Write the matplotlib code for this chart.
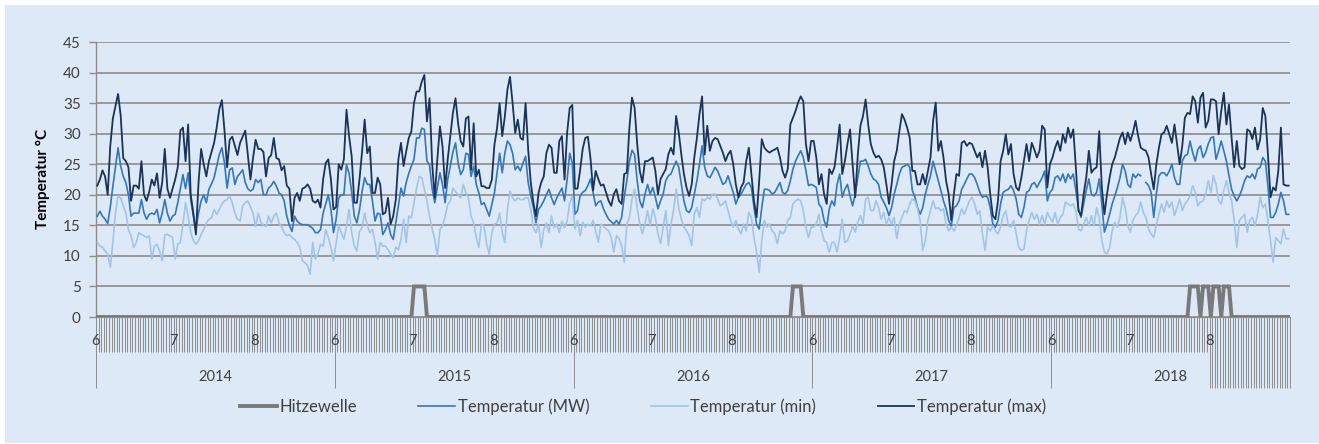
import matplotlib.pyplot as plt
import numpy as np
from matplotlib.patches import Rectangle

years = [2014, 2015, 2016, 2017, 2018]
month_labels = ["6", "7", "8"]
month_len = [30, 31, 31]

# Tagesmaximum (max), Tagesmittel (MW), Tagesminimum (min), je Jahr 1.6.-31.8.
t_max_2014 = [21.5, 22.5, 24, 23, 20, 28, 32.5, 34.5, 36.5, 33,
              26, 25.5, 24.5, 19, 21.5, 21.5, 21, 25.5, 20, 19,
              20.5, 22.5, 21.5, 23.5, 19.5, 22, 27.5, 21, 19.5, 21,
              22.5, 24.5, 30.5, 31, 25.5, 31.5, 20, 17, 13.5, 22,
              27.5, 25, 23, 25.5, 27, 28.5, 31, 34, 35.5, 30.5,
              24.5, 29, 29.5, 28, 26.5, 28.5, 29.5, 30.5, 26.5, 22.5,
              26, 29, 27.5, 27.5, 27, 23, 26, 26.5, 29.3, 26,
              25.8, 24, 24.7, 21.5, 21, 15.7, 19.5, 20.3, 19, 21,
              21.2, 21.7, 21, 19, 18.7, 19.2, 17.9, 22.5, 25.2, 25.8,
              22.5, 17.6]
t_mw_2014 = [16.5, 17.3, 16.5, 16, 15.3, 18, 21.4, 24.5, 27.7, 24.7,
             23, 22, 20, 16.5, 17, 17, 17, 19.2, 17, 16,
             16.8, 17, 16.8, 17.6, 15.4, 17, 19.2, 17, 15.7, 16.5,
             16.8, 18.7, 21, 23.3, 21, 23.6, 19.2, 16.5, 14.3, 17,
             19, 20, 18.7, 20.9, 21.8, 22.8, 24.7, 26.6, 27.7, 25.2,
             21.1, 24.1, 24.4, 21.7, 23, 23.5, 24.1, 22, 21, 20.6,
             20.9, 22.5, 22, 22.5, 20, 20, 21.1, 21.5, 22.2, 21.4,
             20.3, 20, 19, 16.5, 15, 14, 16.5, 15.7, 15.3, 15.1,
             15.1, 15.1, 14.8, 14.5, 13.8, 13.8, 14.3, 17, 18.5, 20,
             17.6, 13.8]
t_min_2014 = [12.2, 11.6, 11.4, 10.8, 10.3, 8.1, 12.2, 17, 19.8, 19.5,
              18.2, 17, 14.3, 13.3, 11.4, 12.2, 13.8, 13.5, 13.3, 13,
              13.3, 9.5, 11.6, 11.9, 10.8, 9.2, 13.5, 13.5, 13.3, 13,
              9.5, 11.9, 12.2, 15.2, 18.7, 16.5, 13.8, 12.5, 11.9, 12.5,
              13.5, 14.3, 15.4, 16, 16.2, 17.6, 16.8, 17.6, 18.5, 19,
              19.2, 19.8, 18.7, 17, 16, 15.7, 18.2, 18.7, 19, 18,
              17, 14.8, 17, 15.5, 15, 14.8, 16.5, 15.4, 16.5, 17,
              15.4, 14.8, 13.8, 13.3, 13.5, 13, 12.7, 12.2, 11.4, 9.2,
              8.9, 8.4, 7, 12.2, 9.5, 10.3, 11.9, 11.6, 14.3, 13,
              11.4, 9.2]

t_max_2015 = [18, 25, 24.1, 25.8, 33.9, 29.6, 26.3, 18.7, 18.7, 22.5,
              27, 32.3, 26.8, 27.9, 20.3, 20.3, 22.8, 21.7, 16.8, 17.1,
              19.5, 15.2, 16.5, 19.2, 25.8, 28.5, 24.7, 27.1, 29.3, 30.4,
              35, 36.9, 36.9, 38.5, 39.6, 32, 35.8, 25.2, 19.5, 25.8,
              31.2, 27.9, 21.1, 25.8, 29.6, 33.4, 35.8, 31.7, 28.8, 27.9,
              32.5, 32.8, 24.1, 31.7, 23, 24.1, 21.4, 21.4, 21.1, 21.1,
              22.5, 28.2, 30.9, 35, 29.6, 32.8, 37.2, 39.3, 35, 30.1,
              32.3, 29.3, 29, 35, 27.4, 22, 18.7, 16.5, 20.3, 22,
              23, 26.8, 28.2, 27.7, 23.6, 23.6, 28.8, 29.6, 22.5, 30.1,
              34.2, 34.7]
t_mw_2015 = [16, 19.5, 20, 20, 24.9, 23.5, 20.5, 16.5, 15.4, 17.5,
             20.5, 22.8, 21.7, 21.7, 19, 15.7, 17, 16.8, 13.5, 14.3,
             15.4, 13.5, 12.7, 15.4, 18.2, 21.1, 19.8, 22, 23.5, 24.7,
             25.8, 29.3, 29.3, 30.9, 30.7, 25.5, 24.9, 21, 18.7, 21.1,
             23.6, 21.7, 18.7, 22.5, 24.7, 27, 28.5, 25.2, 23.3, 24.1,
             26.8, 26.6, 23, 24.7, 21.7, 20.3, 18.4, 18.7, 17.6, 16.5,
             18.4, 20.3, 23.6, 26.8, 23.6, 26.8, 28.8, 28.2, 26.8, 24.1,
             24.7, 23.9, 25.2, 26.3, 22, 19.8, 17.9, 15.4, 17.6, 18.2,
             19, 20, 20.9, 19.5, 18.4, 19.5, 20.3, 21.1, 19, 22.5,
             26.8, 25.2]
t_min_2015 = [12, 15, 13.8, 12.7, 14.9, 17.6, 13.8, 11.6, 10.8, 14,
              14.6, 17, 15, 13.8, 14.3, 12.2, 9.5, 12.2, 11.6, 11.6,
              11, 10.3, 9.7, 11.4, 11, 12.7, 16, 12.2, 16.5, 16.2,
              18.7, 21.1, 23, 22.8, 20.9, 19, 16.5, 14.5, 12.7, 10,
              14.3, 14.9, 16.5, 18.4, 19, 21.1, 20.5, 20, 19.5, 21.7,
              20.3, 19.5, 16.5, 15.4, 13, 11.4, 15.2, 14.9, 11.9, 10.3,
              13.8, 15.2, 15.4, 17, 13.8, 12.2, 17.6, 20.6, 19.5, 19,
              19.5, 19.2, 19.2, 19.5, 19.5, 17.6, 14.6, 13.8, 15.2, 11.4,
              14.3, 15.4, 13.8, 16.5, 14.6, 15.2, 13.8, 15.7, 14.6, 15.7,
              18.7, 19.8]

t_max_2016 = [21, 21, 24, 27.5, 29.3, 29.5, 26, 20.7, 23.9, 22.6,
              21.5, 21.7, 20.4, 19, 18.2, 20.1, 20.9, 19, 18.5, 23.4,
              23.6, 31, 35.9, 34.2, 28.3, 23.9, 22, 25.5, 25.5, 25.8,
              26.1, 23.9, 20.1, 22.6, 23.4, 24.2, 26.6, 27.7, 26.6, 32.9,
              30.2, 26.6, 23.4, 21.2, 19.8, 21.7, 26.1, 29.3, 33.2, 36.1,
              26.6, 31.3, 27.2, 28.8, 29.3, 29.1, 28, 26.9, 25.5, 26.6,
              27.2, 25, 21.7, 19.6, 21.2, 22, 25.5, 27.7, 23.4, 19,
              16.3, 22.3, 29.1, 27.7, 27.2, 26.9, 27.2, 27.4, 27.7, 26.1,
              23.9, 22.8, 24.2, 31.5, 32.6, 33.7, 35.1, 36.1, 35.3, 28.3,
              25.5, 28.8]
t_mw_2016 = [16.8, 17.4, 19.8, 20.4, 20.7, 21.5, 22.6, 20.4, 18.2, 18.8,
             19, 17.7, 16.8, 16, 15.6, 15.2, 15.8, 15.2, 16.3, 19.6,
             22.3, 25.5, 27.3, 26.6, 22.3, 19, 17.9, 20.1, 21.7, 20.1,
             21.2, 19.6, 17.7, 19, 20.1, 22.3, 23.1, 23.4, 24.5, 25.5,
             24.5, 21.7, 19, 17.4, 17.1, 17.9, 20.1, 22.3, 25, 28,
             24.5, 23.1, 22.8, 23.6, 24.5, 23.9, 22.8, 21.7, 22, 23.1,
             21.7, 20.4, 18.5, 19.6, 20.1, 20.9, 21.7, 22, 21.2, 17.9,
             15.2, 14.4, 17.9, 20.9, 20.9, 20.7, 20.1, 20.4, 21.2, 22,
             20.4, 20.1, 20.7, 22.3, 24.2, 25.5, 26.4, 27.2, 26.1, 23.9,
             21.5, 21.7]
t_min_2016 = [14.4, 15.8, 13.3, 15.5, 14.7, 15.2, 14.9, 15.8, 14.1, 12.2,
              15.2, 14.9, 14.4, 14.1, 13, 10.6, 13.3, 12.8, 11.7, 9,
              15.2, 16.3, 19.3, 20.9, 17.9, 15.2, 13.6, 15.2, 17.4, 14.9,
              17.7, 16.3, 13.6, 12, 14.7, 17.4, 11.7, 15.2, 17.4, 20.9,
              17.9, 16, 14.7, 14.1, 13.3, 11.7, 16.8, 17.9, 16.3, 19.3,
              19, 19.6, 19.3, 20.1, 20.1, 19.3, 18.2, 18.5, 19, 17.4,
              15.8, 14.7, 15.8, 14.4, 13.6, 15.2, 14.1, 17.1, 16.3, 13,
              10.6, 7.3, 12.5, 15.8, 14.7, 15.2, 14.1, 13.6, 12, 14.1,
              13.6, 14.1, 15.8, 16.3, 18.5, 19, 19.3, 19, 17.4, 14.7,
              13, 14.7]

t_max_2017 = [28.8, 26.1, 21.7, 23.4, 20.1, 18.5, 24.2, 23.4, 24.5, 27.7,
              31.5, 23.4, 25.5, 28.3, 30.7, 24.9, 19.6, 26.6, 31.3, 32.9,
              35.6, 31.5, 28.3, 26.9, 26.1, 26.4, 25.8, 24.5, 21.7, 18.5,
              21.7, 25.5, 27.2, 30.4, 33.2, 32.3, 31, 29.3, 23.9, 23.9,
              21.7, 21.7, 23.4, 21.7, 23.9, 26.1, 32.1, 35.1, 27.2, 28.8,
              26.1, 22.3, 20.1, 15.8, 20.1, 23.4, 23.1, 28.5, 28.8, 28,
              28.5, 28.3, 27.2, 26.1, 26.9, 24.5, 27.2, 24.5, 20.1, 16.6,
              16, 19, 25.5, 27.2, 29.9, 26.6, 28.3, 23.4, 21.2, 20.7,
              22.8, 25.5, 28.3, 25.5, 28.5, 27.4, 26.1, 27.2, 31.3, 30.7,
              21.2, 25]
t_mw_2017 = [21.5, 21.2, 18.5, 17.9, 15.8, 14.7, 17.7, 19, 18.2, 21.7,
             23.4, 19.6, 20.9, 21.7, 19.8, 18.2, 20.1, 22.8, 25.5, 25.5,
             25.8, 24.7, 23.4, 22.6, 22.3, 21.7, 19.6, 18.8, 17.9, 16.6,
             17.9, 20.1, 21.7, 23.4, 24.5, 24.7, 25, 24.5, 20.7, 19.6,
             17.9, 16.8, 17.9, 20.1, 21.7, 23.1, 25.5, 23.9, 22.3, 20.7,
             19, 17.7, 15.8, 14.9, 17.9, 18.2, 19, 20.9, 21.7, 22.6,
             23.4, 23.4, 22.8, 21.7, 20.4, 19.6, 19.8, 19.6, 17.9, 15.2,
             14.7, 15.8, 18.5, 20.4, 20.7, 20.9, 21.5, 20.7, 19.3, 16.8,
             16.3, 17.9, 20.4, 20.7, 21.7, 22, 21.2, 22, 22.8, 23.9,
             19, 20.4]
t_min_2017 = [14.7, 15.2, 16.8, 14.1, 12.5, 12.2, 10.6, 12.2, 12.2, 10.6,
              13, 16, 12.2, 12.5, 13.6, 14.9, 13.9, 15.5, 16.6, 15.2,
              19.3, 19.6, 17.4, 17.4, 19, 17.9, 16, 17.1, 15.2, 16.3,
              15.2, 16.3, 12.8, 15.2, 16.3, 17.4, 17.1, 18.5, 19.3, 19,
              17.7, 15.8, 10.9, 12.5, 15.8, 17.4, 19, 17.7, 17.9, 17.4,
              17.7, 15.2, 14.1, 14.7, 14.1, 14.9, 16.3, 17.7, 16.8, 17.9,
              19, 19.6, 18.5, 16.8, 17.4, 13.6, 10.9, 14.7, 14.1, 14.9,
              14.1, 13.6, 14.7, 16.6, 17.4, 14.9, 14.7, 15.8, 13.6, 11.4,
              10.9, 11.1, 14.1, 15.8, 17.1, 16, 16.8, 15.2, 16.6, 15.2,
              17.1, 16.3]

t_max_2018 = [26.1, 27.7, 28.8, 27.2, 29.9, 28.5, 31, 29.3, 30.7, 24.5,
              17.4, 16.6, 20.1, 22.8, 27.2, 23.6, 24.2, 24.5, 30.4, 21.2,
              16.8, 20.1, 22.8, 25, 26.1, 27.7, 29.3, 30.2, 28.3, 30.2,
              28.8, 30.2, 32.1, 29.6, 27.7, 27.4, 27.2, 26.1, 23.4, 20.9,
              25, 27.7, 29.9, 30.2, 31.3, 29.9, 28.5, 31.5, 28.3, 25,
              28, 32.6, 33.4, 33.2, 36.1, 35.3, 31.8, 35.9, 36.7, 31,
              32.1, 35.6, 35.6, 35.3, 29.9, 33.7, 36.7, 31.5, 34.8, 29.3,
              24.5, 28.8, 24.7, 24.2, 24.5, 30.7, 30.4, 29.1, 31, 27.4,
              29.1, 34.2, 32.9, 26.6, 19.6, 21.2, 20.7, 23.9, 31, 21.7,
              21.5, 21.5]
t_mw_2018 = [20.9, 22.8, 23.1, 22.3, 23.4, 22, 23.4, 22.6, 23.4, 20.7,
             17.7, 16.3, 18.5, 20.7, 22.6, 20.1, 19.8, 20.4, 22.6, 18.5,
             13.9, 15.2, 16.8, 18.5, 19.8, 21.2, 22.8, 25, 23.9, 21.7,
             21.2, 23.4, 22.8, 23.4, 23.1, np.nan, 22, 21.5, 20.4, 16.3,
             20.1, 23.1, 23.6, 23.6, 23.1, 23.9, 25, 22.8, 21.7, 21.7,
             25.5, 26.4, 26.6, 28.8, 26.9, 25.5, 27.4, 28, 26.1, 26.9,
             28.3, 29.3, 29.5, 25.8, 27.2, 28.8, 27.2, 25.5, 23.1, 20.9,
             19.8, 19, 19.8, 20.9, 22.3, 23.1, 22.8, 23.4, 22.6, 24.2,
             24.5, 26.1, 25.5, 21.5, 16.3, 16.3, 17.1, 18.5, 20.4, 19,
             16.8, 16.8]
t_min_2018 = [15.5, 17.1, 15.2, 16.3, 16.8, 18.8, 18.5, 18.2, 18.5, 17.4,
              14.4, 14.1, 15.2, 16.3, 14.9, 16.6, 14.9, 17.9, 16.3, 12.5,
              10.6, 10.3, 11.4, 14.1, 15.5, 14.7, 16.3, 19.6, 17.9, 14.9,
              13.9, 15.8, 16.6, 17.1, 18.8, 17.1, 16.3, 14.4, 13.6, 13,
              15.2, 16.8, 18.5, 17.1, 19, 17.9, 18.8, 16.6, 17.9, 19.3,
              17.4, 18.5, 19, 19.8, 21.5, 20.4, 18.2, 18.8, 19, 20.1,
              22.3, 20.4, 23.1, 21.7, 19, 18.5, 20.7, 22.3, 20.4, 19,
              15.8, 11.4, 15.8, 16.3, 16.8, 13.9, 15.8, 16.3, 14.9, 16.8,
              19.6, 17.9, 18.5, 15.8, 12.5, 9, 13, 12.5, 12, 14.4,
              12.8, 12.8]

# Tage mit Hitzewelle (Tag ab 1. Juni)
hitze_tage = {2015: [30, 31, 32, 33, 34],
              2016: [84, 85, 86, 87],
              2018: [53, 54, 55, 56, 58, 59, 60, 62, 63, 64, 66, 67, 68]}

t_max = np.array(t_max_2014 + t_max_2015 + t_max_2016 + t_max_2017 + t_max_2018, dtype=float)
t_mw = np.array(t_mw_2014 + t_mw_2015 + t_mw_2016 + t_mw_2017 + t_mw_2018, dtype=float)
t_min = np.array(t_min_2014 + t_min_2015 + t_min_2016 + t_min_2017 + t_min_2018, dtype=float)

n_year = sum(month_len)
n = len(t_max)
x = np.arange(n)
hitze = np.zeros(n)
for k, yr in enumerate(years):
    for d in hitze_tage.get(yr, []):
        hitze[k * n_year + d] = 5

bg = '#dde9f6'
grid_c = '#8c8c8c'
txt_c = '#404040'
plt.rcParams['font.family'] = ['Lato', 'DejaVu Sans']

W, H = 1319, 444
fig = plt.figure(figsize=(W / 100, H / 100), dpi=100, facecolor='white')
fig.patches.append(Rectangle((5 / W, 1 / H), 1 - 5 / W, 1 - 6 / H, transform=fig.transFigure,
                             facecolor=bg, edgecolor='none', zorder=-10))

ax = fig.add_axes([96 / W, 1 - 317 / H, 1194 / W, 275 / H])
ax.set_facecolor('none')

ax.plot(x, hitze, color='#7a7a7a', lw=2.8, label='Hitzewelle', zorder=3, solid_joinstyle='miter')
ax.plot(x, t_mw, color='#3377bf', lw=1.2, label='Temperatur (MW)', zorder=4)
ax.plot(x, t_min, color='#a2c4e8', lw=1.2, label='Temperatur (min)', zorder=4)
ax.plot(x, t_max, color='#1b3358', lw=1.3, label='Temperatur (max)', zorder=5)

ax.set_xlim(-0.5, n - 0.5)
ax.set_ylim(0, 45)
ax.set_yticks(np.arange(0, 46, 5))
ax.yaxis.grid(True, color=grid_c, lw=1.2)
ax.set_axisbelow(True)
ax.tick_params(axis='y', length=5, width=1.0, color=grid_c, labelsize=11, labelcolor=txt_c, pad=6)
ax.set_xticks([])
for s in ['top', 'right']:
    ax.spines[s].set_visible(False)
ax.spines['left'].set_color(grid_c)
ax.spines['left'].set_linewidth(1.0)
ax.spines['bottom'].set_color(grid_c)

# mehrstufige Kategorienachse: Tage, Monate, Jahre
xt = ax.get_xaxis_transform()
short_len = -35 / 275
long_len = -71 / 275
bounds = np.arange(n + 1) - 0.5
long_from = (len(years) - 1) * n_year + month_len[0] + month_len[1]
is_long = np.zeros(n + 1, dtype=bool)
is_long[::n_year] = True
is_long[long_from:] = True
ax.vlines(bounds[~is_long], short_len, 0, transform=xt, colors='#7f7f7f', lw=0.6, clip_on=False)
ax.vlines(bounds[is_long], long_len, 0, transform=xt, colors='#7f7f7f', lw=0.6, clip_on=False)

for k, yr in enumerate(years):
    start = k * n_year
    off = 0
    for lab, ml in zip(month_labels, month_len):
        ax.text(start + off - 0.5, -24 / 275, lab, transform=xt, ha='center', va='center',
                fontsize=10.5, color=txt_c)
        off += ml
    ax.text(start + n_year / 2 - 0.5, -60 / 275, str(yr), transform=xt, ha='center', va='center',
            fontsize=10.5, color=txt_c)

fig.text(43 / W, 1 - 179 / H, 'Temperatur °C', rotation=90, ha='center', va='center',
         fontsize=11, fontweight='bold', color='black')

leg = ax.legend(loc='center', bbox_to_anchor=(643 / W, 1 - 407 / H), bbox_transform=fig.transFigure,
                ncol=4, frameon=False, handlelength=2.2, handletextpad=0.15, columnspacing=3.7,
                prop={'family': ['Lato', 'DejaVu Sans'], 'size': 12})
for t in leg.get_texts():
    t.set_color(txt_c)

fig.savefig('out.png', dpi=100, facecolor=fig.get_facecolor())
